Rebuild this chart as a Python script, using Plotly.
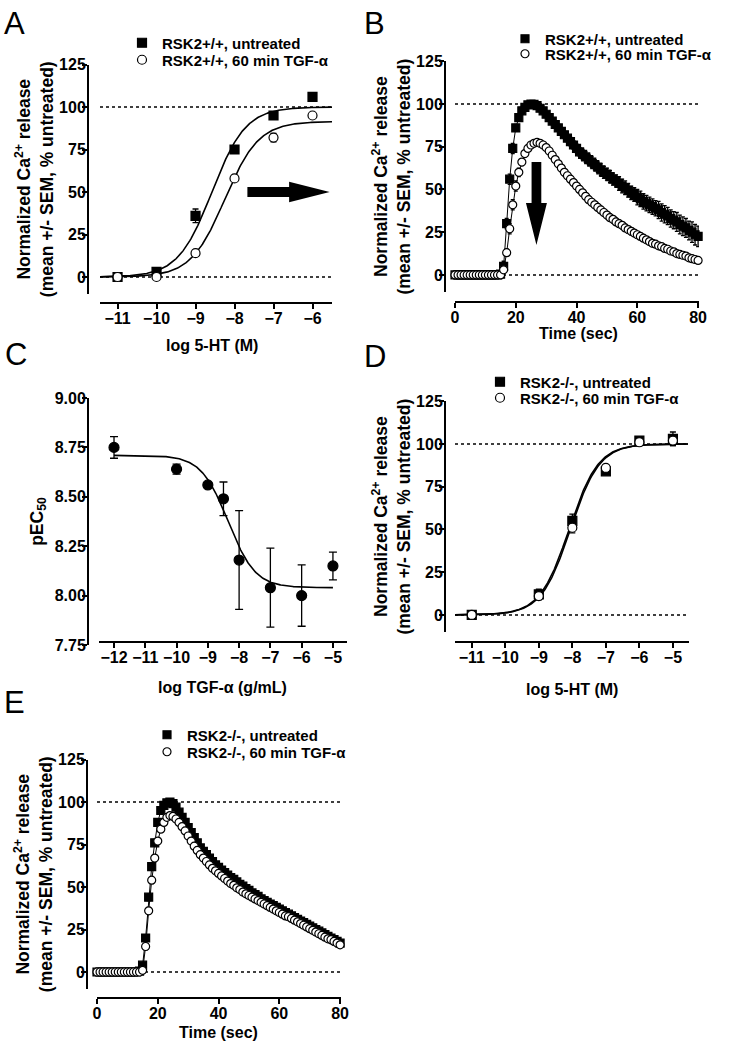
import numpy as np
import plotly.graph_objects as go

W, H = 729, 1047
FONT = "Arial, Liberation Sans, sans-serif"

# ---------------- data ----------------
# A: 5-HT concentration-response, RSK2+/+
A_LOG_5HT = [-11, -10, -9, -8, -7, -6]
A_CTRL = [0, 3, 36, 75, 95, 106]
A_CTRL_SEM = [1, 1, 4, 1.5, 1.5, 1]
A_TGF = [0, 0, 14, 58, 82, 95]
A_TGF_SEM = [0.5, 0.5, 1, 1.5, 2.5, 1.5]
A_FIT_LOGEC50 = [-8.58, -8.25]   # untreated, TGF-a
A_FIT_TOP = [100, 91.5]

# C: pEC50 vs TGF-a
C_LOG_TGF = [-12, -10, -9, -8.5, -8, -7, -6, -5]
C_PEC50 = [8.75, 8.64, 8.56, 8.49, 8.18, 8.04, 8.00, 8.15]
C_SEM = [0.055, 0.025, 0.01, 0.085, 0.25, 0.2, 0.155, 0.07]
C_FIT = [8.71, 8.04, -8.35, -1.0]   # top, bottom, logIC50, hill

# D: 5-HT concentration-response, RSK2-/-
D_LOG_5HT = [-11, -9, -8, -7, -6, -5]
D_CTRL = [0, 12, 55, 84, 102, 103]
D_CTRL_SEM = [0.5, 3, 4, 1.5, 1.5, 4]
D_TGF = [0, 11, 51, 86, 101, 102]
D_TGF_SEM = [0.5, 2, 3, 1, 1, 3]
D_FIT_LOGEC50 = [-8.1, -8.06]
D_FIT_TOP = [100, 100]

# B / E: time courses (1 s sampling)
TIME_SEC = list(range(0, 81))
B_CTRL = [0, 0, 0, 0, 0, 0, 0, 0, 0, 0,
          0, 0, 0, 0, 0, 0.5, 5, 30, 56, 74,
          86, 92, 96, 98, 99.5, 100, 99.8, 99, 97.5, 96,
          94, 92, 90, 88, 86, 84, 82, 80, 78, 76,
          74, 72, 70.5, 69, 67.5, 66, 64.5, 63, 61.5, 60,
          59, 57.5, 56, 55, 53.5, 52, 51, 49.5, 48, 47,
          45.5, 44.5, 43, 42, 41, 40, 39, 38, 36.5, 35.5,
          34.5, 33, 32, 31, 29.5, 28.5, 27.5, 26, 25, 23.5,
          22.5]
B_CTRL_SEM = [0.5, 0.5, 0.5, 0.5, 0.5, 0.5, 0.5, 0.5, 0.5, 0.5,
              0.5, 0.5, 0.5, 0.5, 0.5, 1, 3, 3, 3, 3,
              2, 2, 2, 1.5, 1, 1, 1, 1, 1, 1.5,
              1.5, 1.5, 1.5, 2, 2, 2, 2, 2, 2.5, 2.5,
              2.5, 2.5, 3, 3, 3, 3, 3, 3, 3.5, 3.5,
              3.5, 3.5, 3.5, 3.5, 4, 4, 4, 4, 4, 4,
              4.5, 4.5, 4.5, 4.5, 4.5, 4.5, 4.5, 5, 5, 5,
              5, 5, 5, 5.5, 5.5, 5.5, 5.5, 5.5, 6, 6,
              6]
B_TGF = [0, 0, 0, 0, 0, 0, 0, 0, 0, 0,
         0, 0, 0, 0, 0, 0, 3, 13, 27, 41,
         52, 60, 66, 71, 74, 76, 77, 77.5, 77, 76,
         74.5, 72.5, 70, 67.5, 65, 62.5, 60, 58, 56, 54,
         52, 50, 48, 46, 44, 42.5, 41, 39.5, 38, 36.5,
         35, 33.5, 32.5, 31, 30, 29, 27.5, 26.5, 25.5, 24.5,
         23.5, 22.5, 21.5, 20.5, 19.5, 18.5, 18, 17, 16.5, 15.5,
         15, 14, 13.5, 12.5, 12, 11.5, 11, 10, 9.5, 9,
         8.5]
B_TGF_SEM = [0.5, 0.5, 0.5, 0.5, 0.5, 0.5, 0.5, 0.5, 0.5, 0.5,
             0.5, 0.5, 0.5, 0.5, 0.5, 0.5, 1, 2, 3, 3,
             3, 2.5, 2, 2, 1.5, 1.5, 1.5, 1.5, 1.5, 1.5,
             1.5, 1.5, 1.5, 1.5, 1.5, 2, 2, 2, 2, 2,
             2, 2, 2, 2, 2, 2, 2, 2, 2, 2,
             2, 2, 2, 2, 2, 2, 2, 2, 2, 1.5,
             1.5, 1.5, 1.5, 1.5, 1.5, 1.5, 1.5, 1.5, 1.5, 1.5,
             1.5, 1.5, 1.5, 1.5, 1.5, 1, 1, 1, 1, 1,
             1]
E_CTRL = [0, 0, 0, 0, 0, 0, 0, 0, 0, 0,
          0, 0, 0, 0, 0.5, 4, 20, 44, 62, 76,
          88, 95, 98, 99.5, 100, 99, 97, 94, 91, 88,
          85, 82, 79, 76, 73, 71, 69, 67, 65, 63,
          61.5, 60, 58.5, 57, 55.5, 54.5, 53, 51.5, 50.5, 49,
          48, 46.5, 45.5, 44.5, 43, 42, 41, 40, 39, 38,
          37, 36, 35, 34, 33, 32, 31, 30, 29, 28,
          27, 26, 25, 24, 23, 22, 21, 20, 19, 18,
          17]
E_CTRL_SEM = [0.5] * 15 + [1, 2, 2, 2, 2, 1.5, 1.5, 1, 1, 1, 1, 1, 1, 1, 1] + [1] * 51
E_TGF = [0, 0, 0, 0, 0, 0, 0, 0, 0, 0,
         0, 0, 0, 0, 0, 1, 15, 36, 54, 67,
         77, 84, 88, 91, 92, 91.5, 90, 88, 85.5, 83,
         80, 77, 74, 71.5, 69, 67, 65, 63, 61, 59.5,
         58, 56.5, 55, 53.5, 52, 51, 49.5, 48.5, 47, 46,
         45, 44, 43, 42, 41, 40, 39, 38, 37, 36,
         35, 34, 33, 32.5, 31.5, 30.5, 29.5, 28.5, 27.5, 26.5,
         25.5, 24.5, 23.5, 22.5, 21.5, 20.5, 19.5, 19, 18, 17,
         16]
E_TGF_SEM = [0.5] * 15 + [1, 2, 2, 2, 2, 1.5, 1.5, 1, 1, 1, 1, 1, 1, 1, 1] + [1] * 51

REF_LEVELS = [0, 100]
PCT_TICKS = [0, 25, 50, 75, 100, 125]
TIME_TICKS = [0, 20, 40, 60, 80]

# ---------------- style ----------------
TICK_FONT = dict(family=FONT, size=16, color="black", weight="bold")
XTITLE_FONT = dict(family=FONT, size=16, color="black", weight="bold")
YTITLE_FONT = dict(family=FONT, size=17.5, color="black", weight="bold")
LEG_FONT = dict(family=FONT, size=15, color="black", weight="bold")
Y_PCT_TITLE = "Normalized Ca<sup>2+</sup> release<br>(mean +/- SEM, % untreated)"


def px_x(p):
    return p / W


def px_y(p):
    return 1 - p / H


def axis(domain_px, rng, pos, vertical, **kw):
    if vertical:
        dom = [px_y(domain_px[1]), px_y(domain_px[0])]
        position = px_x(pos)
        standoff = -7
    else:
        dom = [px_x(domain_px[0]), px_x(domain_px[1])]
        position = px_y(pos)
        standoff = -4
    d = dict(domain=dom, range=rng, anchor="free", position=position,
             showline=True, linecolor="black", linewidth=2,
             ticks="outside", ticklen=5, tickwidth=2, tickcolor="black",
             ticklabelstandoff=standoff,
             showgrid=False, zeroline=False, automargin=False,
             tickfont=TICK_FONT, title_font=YTITLE_FONT)
    d.update(kw)
    return d


def four_pl(x, top, bottom, logec50, hill):
    return bottom + (top - bottom) / (1 + 10 ** ((logec50 - x) * hill))


fig = go.Figure()


def add_fit(xr, top, bottom, logec50, hill, xa, ya):
    xs = np.linspace(xr[0], xr[1], 300)
    fig.add_trace(go.Scatter(x=xs, y=four_pl(xs, top, bottom, logec50, hill), mode="lines",
                             line=dict(color="black", width=1.6), showlegend=False,
                             hoverinfo="skip", xaxis=xa, yaxis=ya))


def add_points(x, y, err, name, filled, symbol, size, xa, ya, legend=None, cap=3):
    fig.add_trace(go.Scatter(
        x=x, y=y, mode="markers", name=name,
        marker=dict(symbol=symbol, size=size, color="black" if filled else "white",
                    line=dict(color="black", width=1.2)),
        error_y=dict(type="data", array=err, color="black", thickness=1.3, width=cap),
        showlegend=legend is not None, legend=legend or "legend",
        cliponaxis=False, xaxis=xa, yaxis=ya))


def add_trace_line(x, y, xa, ya):
    fig.add_trace(go.Scatter(x=x, y=y, mode="lines", line=dict(color="black", width=1),
                             showlegend=False, hoverinfo="skip", xaxis=xa, yaxis=ya))


# A
for i in range(2):
    add_fit((-11.45, -5.5), A_FIT_TOP[i], 0, A_FIT_LOGEC50[i], 1, "x", "y")
for y, err, name, filled, sym, lg in [
        (A_CTRL, A_CTRL_SEM, "RSK2+/+, untreated", True, "square", "legend"),
        (A_TGF, A_TGF_SEM, "RSK2+/+, 60 min TGF-\u03b1", False, "circle", "legend2")]:
    add_points(A_LOG_5HT, y, err, name, filled, sym, 9, "x", "y", legend=lg)

# B
for y, err, name, filled, sym, lg in [
        (B_CTRL, B_CTRL_SEM, "RSK2+/+, untreated", True, "square", "legend3"),
        (B_TGF, B_TGF_SEM, "RSK2+/+, 60 min TGF-\u03b1", False, "circle", "legend4")]:
    add_trace_line(TIME_SEC, y, "x2", "y2")
    add_points(TIME_SEC, y, err, name, filled, sym, 8, "x2", "y2", legend=lg, cap=2)

# C
add_fit((-12, -5), C_FIT[0], C_FIT[1], C_FIT[2], C_FIT[3], "x3", "y3")
add_points(C_LOG_TGF, C_PEC50, C_SEM, "pEC50", True, "circle", 10, "x3", "y3", cap=4)

# D
for i in range(2):
    add_fit((-11.5, -4.55), D_FIT_TOP[i], 0, D_FIT_LOGEC50[i], 1, "x4", "y4")
for y, err, name, filled, sym, lg in [
        (D_CTRL, D_CTRL_SEM, "RSK2-/-, untreated", True, "square", "legend5"),
        (D_TGF, D_TGF_SEM, "RSK2-/-, 60 min TGF-\u03b1", False, "circle", "legend6")]:
    add_points(D_LOG_5HT, y, err, name, filled, sym, 9, "x4", "y4", legend=lg)

# E
for y, err, name, filled, sym, lg in [
        (E_CTRL, E_CTRL_SEM, "RSK2-/-, untreated", True, "square", "legend7"),
        (E_TGF, E_TGF_SEM, "RSK2-/-, 60 min TGF-\u03b1", False, "circle", "legend8")]:
    add_trace_line(TIME_SEC, y, "x5", "y5")
    add_points(TIME_SEC, y, err, name, filled, sym, 8, "x5", "y5", legend=lg, cap=2)

# reference dotted lines at 0 % and 100 %
shapes = []
for ya in ["y", "y2", "y4", "y5"]:
    xa = "x" + ya[1:]
    for lvl in REF_LEVELS:
        shapes.append(dict(type="line", xref=xa + " domain", yref=ya, x0=0, x1=1, y0=lvl, y1=lvl,
                           line=dict(color="black", width=1.5, dash="dot"), layer="below"))

# arrows (A: rightward shift, B: drop in peak)
shapes.append(dict(type="path", xref="x", yref="y", fillcolor="black", line=dict(width=0),
                   path="M -7.67,47 L -6.6,47 L -6.6,44 L -5.56,50 L -6.6,56 L -6.6,53 L -7.67,53 Z"))
shapes.append(dict(type="path", xref="x2", yref="y2", fillcolor="black", line=dict(width=0),
                   path="M 25.2,66 L 28.4,66 L 28.4,42 L 30.25,42 L 26.8,17.5 L 23.35,42 L 25.2,42 Z"))

# one legend box per entry so the rows sit as tightly as in the reference
leg = dict(xanchor="left", yanchor="middle", font=LEG_FONT, bgcolor="rgba(0,0,0,0)",
           itemwidth=30, tracegroupgap=0)
legend_rows = {"legend": (122, 43), "legend2": (122, 60),
               "legend3": (505, 39), "legend4": (505, 54),
               "legend5": (480, 382), "legend6": (480, 398),
               "legend7": (147, 735), "legend8": (147, 752)}
legends = {k: dict(x=px_x(x), y=px_y(y), **leg) for k, (x, y) in legend_rows.items()}

letters = [("A", 2, 24), ("B", 362, 24), ("C", 3, 354), ("D", 362, 356), ("E", 2, 702)]
annotations = [dict(text=t, x=px_x(x), y=px_y(y), xref="paper", yref="paper", xanchor="left",
                    yanchor="middle", showarrow=False,
                    font=dict(family=FONT, size=31, color="black"))
               for t, x, y in letters]

# x-axis titles placed where the reference has them
x_titles = [("log 5-HT (M)", 212, 346), ("Time (sec)", 578, 333),
            ("log TGF-\u03b1 (g/mL)", 222, 687), ("log 5-HT (M)", 572, 689),
            ("Time (sec)", 218, 1032)]
annotations += [dict(text=t, x=px_x(x), y=px_y(y), xref="paper", yref="paper", xanchor="center",
                     yanchor="middle", showarrow=False, font=XTITLE_FONT)
                for t, x, y in x_titles]

fig.update_layout(
    width=W, height=H, autosize=False,
    margin=dict(l=0, r=0, t=0, b=0),
    paper_bgcolor="white", plot_bgcolor="white",
    font=dict(family=FONT, color="black"),
    xaxis=axis((100, 332), [-11.45, -5.5], 303, False, tickvals=A_LOG_5HT),
    yaxis=axis((64.5, 294), [-10, 125], 88, True, tickvals=PCT_TICKS,
               title=dict(text=Y_PCT_TITLE, standoff=0)),
    xaxis2=axis((455, 699), [0, 80.3], 302, False, tickvals=TIME_TICKS),
    yaxis2=axis((61.25, 292), [-10, 125], 445, True, tickvals=PCT_TICKS,
                title=dict(text=Y_PCT_TITLE, standoff=0)),
    xaxis3=axis((99, 347), [-12.48, -4.55], 642, False, tickvals=list(range(-12, -4))),
    yaxis3=axis((398, 645), [7.75, 9.0], 88, True, tickvals=[7.75, 8.0, 8.25, 8.5, 8.75, 9.0],
                tickformat=".2f",
                title=dict(text="pEC<sub>50</sub>", standoff=6)),
    xaxis4=axis((455, 689), [-11.5, -4.52], 642, False, tickvals=[-11, -10, -9, -8, -7, -6, -5]),
    yaxis4=axis((401.25, 632), [-10, 125], 445, True, tickvals=PCT_TICKS,
                title=dict(text=Y_PCT_TITLE, standoff=0)),
    xaxis5=axis((97, 341), [0, 80.3], 998, False, tickvals=TIME_TICKS),
    yaxis5=axis((759.5, 989), [-10, 125], 87, True, tickvals=PCT_TICKS,
                title=dict(text=Y_PCT_TITLE, standoff=0)),
    shapes=shapes,
    annotations=annotations,
    **legends,
)

# the page's default 8px body margin would shift the whole figure; drop it
fig.write_html("out.html", config={"displayModeBar": False},
               post_script="document.body.style.margin='0';")
